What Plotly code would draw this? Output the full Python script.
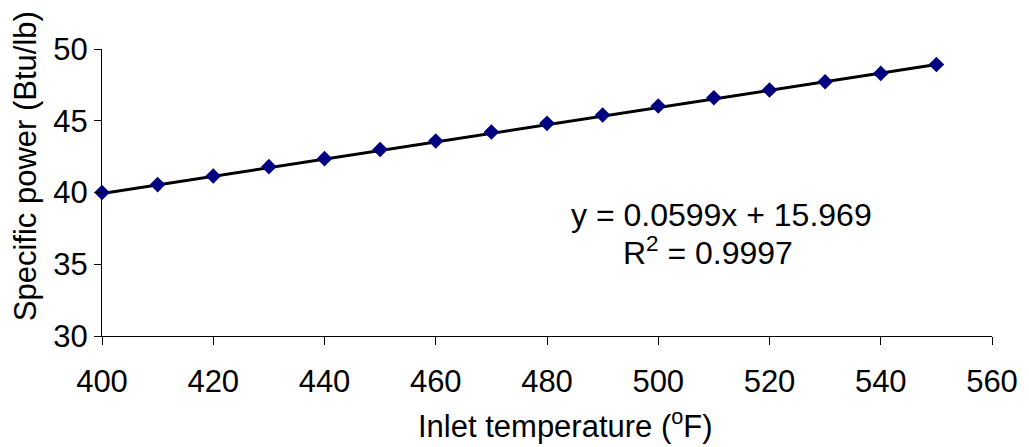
import plotly.graph_objects as go

# Data
inlet_temp = [400, 410, 420, 430, 440, 450, 460, 470, 480, 490, 500, 510, 520, 530, 540, 550]
specific_power = [40.0, 40.55, 41.15, 41.8, 42.36, 43.0, 43.59, 44.22, 44.82, 45.4, 46.03, 46.6, 47.14, 47.72, 48.3, 48.92]

# Trend line coefficients (as displayed on the chart)
slope = 0.0599
intercept = 15.969
trend_x = [inlet_temp[0], inlet_temp[-1]]
trend_y = [slope * x + intercept for x in trend_x]

x_ticks = [400, 420, 440, 460, 480, 500, 520, 540, 560]
y_ticks = [30, 35, 40, 45, 50]

x_title = "Inlet temperature (<sup>o</sup>F)"
y_title = "Specific power (Btu/lb)"
eq_line = "y = 0.0599x + 15.969"
r2_line = "R<sup>2</sup> = 0.9997"

FONT = "Liberation Sans, Arial, sans-serif"
FS = 31

fig = go.Figure()
fig.add_trace(go.Scatter(
    x=trend_x, y=trend_y, mode="lines",
    line=dict(color="black", width=3),
    hoverinfo="skip", showlegend=False, cliponaxis=False,
))
fig.add_trace(go.Scatter(
    x=inlet_temp, y=specific_power, mode="markers",
    marker=dict(symbol="diamond", size=12, color="#000080",
                line=dict(width=0)),
    showlegend=False, cliponaxis=False,
))

txt_font = dict(family=FONT, size=FS, color="black")
fig.add_annotation(x=511.3, y=38.43, xref="x", yref="y", text=eq_line,
                   showarrow=False, font=dict(family=FONT, size=32, color="black"))
fig.add_annotation(x=508.9, y=35.9, xref="x", yref="y", text=r2_line,
                   showarrow=False, font=dict(family=FONT, size=32, color="black"))
# axis titles
fig.add_annotation(x=0.521, y=-0.307, xref="paper", yref="paper", text=x_title,
                   showarrow=False, xanchor="center", yanchor="middle", font=txt_font)
fig.add_annotation(x=-0.0857, y=0.5906, xref="paper", yref="paper", text=y_title,
                   showarrow=False, xanchor="center", yanchor="middle",
                   textangle=-90, font=txt_font)

fig.update_layout(
    width=1029, height=447,
    margin=dict(l=102, r=37, t=49, b=111),
    paper_bgcolor="white", plot_bgcolor="white",
    font=txt_font,
    xaxis=dict(
        range=[400, 560], tickvals=x_ticks, ticktext=[str(v) for v in x_ticks],
        showgrid=False, zeroline=False, showline=True, linecolor="black", linewidth=1,
        ticks="outside", ticklen=8, tickcolor="black", tickwidth=1,
        tickfont=txt_font, ticklabelstandoff=10,
    ),
    yaxis=dict(
        range=[30, 50], tickvals=y_ticks, ticktext=[str(v) for v in y_ticks],
        showgrid=False, zeroline=False, showline=True, linecolor="black", linewidth=1,
        ticks="outside", ticklen=7, tickcolor="black", tickwidth=1,
        tickfont=txt_font,
    ),
)

fig.write_html("out.html")
